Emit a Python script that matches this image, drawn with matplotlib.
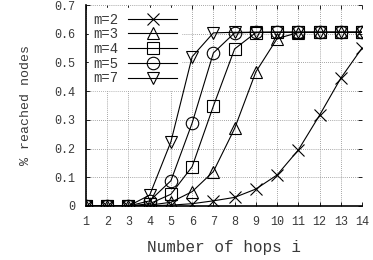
import numpy as np
import matplotlib.pyplot as plt

hops = np.arange(1, 15)

# fraction of reached nodes per hop count, one list per m
m2 = [0, 0, 0, 0.001, 0.003, 0.008, 0.018, 0.030, 0.059, 0.108, 0.195, 0.316, 0.445, 0.55]
m3 = [0, 0, 0, 0.003, 0.013, 0.05, 0.12, 0.27, 0.467, 0.583, 0.604, 0.605, 0.605, 0.605]
m4 = [0, 0, 0, 0.008, 0.041, 0.137, 0.348, 0.547, 0.604, 0.605, 0.605, 0.605, 0.605, 0.605]
m5 = [0, 0, 0, 0.018, 0.088, 0.289, 0.533, 0.603, 0.605, 0.605, 0.605, 0.605, 0.605, 0.605]
m7 = [0, 0, 0, 0.038, 0.224, 0.52, 0.603, 0.605, 0.605, 0.605, 0.605, 0.605, 0.605, 0.605]

series = [("m=2", m2, "x"), ("m=3", m3, "^"), ("m=4", m4, "s"),
          ("m=5", m5, "o"), ("m=7", m7, "v")]

yticks = [0, 0.1, 0.2, 0.3, 0.4, 0.5, 0.6, 0.7]
ylabels = ["0", "0.1", "0.2", "0.3", "0.4", "0.5", "0.6", "0.7"]

plt.rcParams['font.family'] = ['Liberation Mono', 'DejaVu Sans Mono']
TXT = "#3a3a3a"

fig = plt.figure(figsize=(3.73, 2.6), dpi=100)
ax = fig.add_axes([86 / 373, 1 - 206 / 260, 276 / 373, 201 / 260])

for label, vals, mk in series:
    ax.plot(hops, vals, color="black", lw=0.8, marker=mk, markersize=9,
            markerfacecolor="none", markeredgecolor="black", markeredgewidth=0.8,
            label=label)

ax.set_xlim(1, 14)
ax.set_ylim(0, 0.7)
ax.set_xticks(hops)
ax.set_yticks(yticks)
ax.set_yticklabels(ylabels)
ax.tick_params(direction="in", length=3, labelsize=8.5, top=True, right=True,
               width=0.6, color="black", labelcolor=TXT)
ax.tick_params(axis="x", pad=7)
ax.tick_params(axis="y", pad=8)
ax.grid(True, color="#888888", linestyle=(0, (1, 1.5)), lw=0.6)
for side in ("top", "right"):
    ax.spines[side].set_visible(False)
for side in ("left", "bottom"):
    ax.spines[side].set_linewidth(1.2)

ax.set_xlabel("Number of hops i", fontsize=11.5, labelpad=9, color=TXT)
ax.set_ylabel("% reached nodes", fontsize=9.5, labelpad=16, color=TXT)

leg = ax.legend(loc="upper left", frameon=True, markerfirst=False, fontsize=10,
                handlelength=3.5, handletextpad=0.7, labelspacing=0.05,
                borderaxespad=0.25, borderpad=0.3, fancybox=False)
leg.get_frame().set_edgecolor("white")
leg.get_frame().set_facecolor("white")
leg.get_frame().set_alpha(1)
for t in leg.get_texts():
    t.set_color(TXT)

fig.savefig("out.png", dpi=100)
